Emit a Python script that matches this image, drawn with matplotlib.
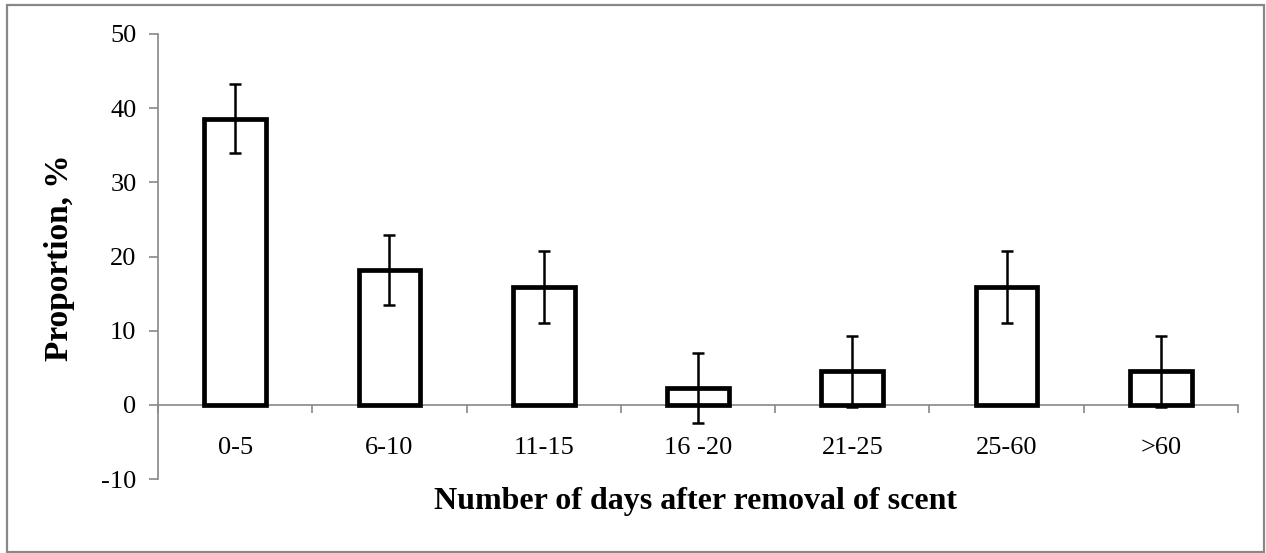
import matplotlib
matplotlib.use("Agg")
import matplotlib.pyplot as plt
from matplotlib.patches import Rectangle
import numpy as np

categories = ["0-5", "6-10", "11-15", "16 -20", "21-25", "25-60", ">60"]
values = [38.6, 18.2, 15.9, 2.3, 4.5, 15.9, 4.5]
errors = [4.7, 4.7, 4.8, 4.7, 4.8, 4.8, 4.8]
yticks = [-10, 0, 10, 20, 30, 40, 50]

plt.rcParams['font.family'] = ['Liberation Serif', 'DejaVu Serif']

W, H = 1266, 553
fig = plt.figure(figsize=(W / 100, H / 100), dpi=100)
fig.patches.append(Rectangle((7/W, 1 - 552/H), 1257/W, 547/H, transform=fig.transFigure,
                             fill=False, edgecolor='#888888', linewidth=1.6))
ax = fig.add_axes([158/W, 1 - 479/H, 1080/W, 445/H])

x = np.arange(len(categories))
ax.bar(x, values, width=0.4, facecolor='white', edgecolor='black', linewidth=3.4, zorder=2)
ax.errorbar(x, values, yerr=errors, fmt='none', ecolor='black', elinewidth=1.8,
            capsize=4.5, capthick=1.8, zorder=3)

ax.set_xlim(-0.5, len(categories) - 0.5)
ax.set_ylim(-10, 50)
ax.set_yticks(yticks)
ax.set_yticklabels([str(t) for t in yticks])
ax.tick_params(axis='y', direction='out', length=6.5, width=1.2, color='#888888',
               labelsize=19, pad=9)

for s in ['top', 'right']:
    ax.spines[s].set_visible(False)
ax.spines['left'].set_color('#888888')
ax.spines['left'].set_linewidth(1.2)
ax.spines['bottom'].set_position(('data', 0))
ax.spines['bottom'].set_color('#888888')
ax.spines['bottom'].set_linewidth(1.2)
ax.spines['bottom'].set_zorder(1)

ax.set_xticks(x)
ax.set_xticklabels(categories)
ax.set_xticks(np.arange(-0.5, len(categories)), minor=True)
ax.tick_params(axis='x', which='major', length=0, labelsize=19, pad=23)
ax.tick_params(axis='x', which='minor', direction='out', length=5.5, width=1.2, color='#888888')

fig.text(60/W, 1 - 258/H, "Proportion, %", rotation=90, ha='center', va='center',
         fontsize=24, fontweight='bold')
fig.text(696/W, 1 - 502/H, "Number of days after removal of scent",
         ha='center', va='center', fontsize=23, fontweight='bold')

fig.savefig("out.png", dpi=100)
